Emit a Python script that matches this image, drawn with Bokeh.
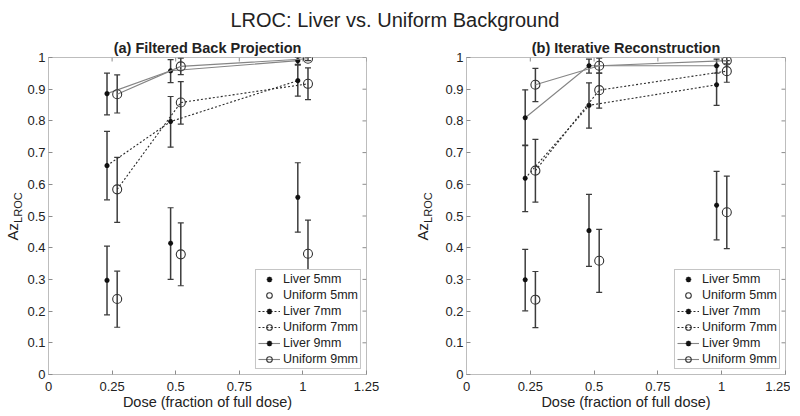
import numpy as np
from bokeh.plotting import figure
from bokeh.models import (Range1d, FixedTicker, Whisker, TeeHead,
                          ColumnDataSource, Legend, LegendItem, Div)
from bokeh.layouts import column, row
from bokeh.embed import file_html
from bokeh.resources import INLINE

# ---------------- data ----------------
doses = [0.25, 0.5, 1.0]
x_ticks = [0, 0.25, 0.5, 0.75, 1.0, 1.25]
x_tick_labels = ["0", "0.25", "0.5", "0.75", "1", "1.25"]
y_ticks = [0, 0.1, 0.2, 0.3, 0.4, 0.5, 0.6, 0.7, 0.8, 0.9, 1.0]
y_tick_labels = ["0", "0.1", "0.2", "0.3", "0.4", "0.5", "0.6", "0.7", "0.8", "0.9", "1"]
series_names = ["Liver 5mm", "Uniform 5mm", "Liver 7mm", "Uniform 7mm", "Liver 9mm", "Uniform 9mm"]

# (a) Filtered Back Projection
fbp_liver5 = [0.297, 0.414, 0.559]
fbp_liver5_lo = [0.188, 0.300, 0.449]
fbp_liver5_hi = [0.405, 0.526, 0.668]
fbp_unif5 = [0.238, 0.379, 0.381]
fbp_unif5_lo = [0.149, 0.280, 0.276]
fbp_unif5_hi = [0.326, 0.478, 0.487]
fbp_liver7 = [0.659, 0.798, 0.927]
fbp_liver7_lo = [0.551, 0.717, 0.878]
fbp_liver7_hi = [0.767, 0.877, 0.976]
fbp_unif7 = [0.584, 0.858, 0.917]
fbp_unif7_lo = [0.480, 0.790, 0.867]
fbp_unif7_hi = [0.685, 0.924, 0.967]
fbp_liver9 = [0.886, 0.958, 0.990]
fbp_liver9_lo = [0.819, 0.921, 0.978]
fbp_liver9_hi = [0.951, 0.993, 1.000]
fbp_unif9 = [0.884, 0.972, 0.996]
fbp_unif9_lo = [0.825, 0.946, 0.990]
fbp_unif9_hi = [0.945, 0.998, 1.000]

# (b) Iterative Reconstruction
ir_liver5 = [0.299, 0.454, 0.534]
ir_liver5_lo = [0.201, 0.341, 0.425]
ir_liver5_hi = [0.395, 0.568, 0.641]
ir_unif5 = [0.236, 0.359, 0.512]
ir_unif5_lo = [0.148, 0.259, 0.397]
ir_unif5_hi = [0.325, 0.458, 0.626]
ir_liver7 = [0.619, 0.849, 0.914]
ir_liver7_lo = [0.514, 0.777, 0.849]
ir_liver7_hi = [0.724, 0.920, 0.974]
ir_unif7 = [0.643, 0.897, 0.957]
ir_unif7_lo = [0.544, 0.840, 0.922]
ir_unif7_hi = [0.742, 0.951, 0.990]
ir_liver9 = [0.810, 0.974, 0.974]
ir_liver9_lo = [0.722, 0.951, 0.951]
ir_liver9_hi = [0.898, 0.995, 0.995]
ir_unif9 = [0.914, 0.974, 0.990]
ir_unif9_lo = [0.861, 0.951, 0.980]
ir_unif9_hi = [0.966, 0.998, 1.000]

FONT = "Liberation Sans"
TXT = "#222222"
BOX = "#bdbdbd"
TICK = "#8c8c8c"
DOSE_SHIFT = 0.02
FIG_H = 384
FRAME_W = 319
FRAME_H = 317
TICK_LEN = 4


def style_axis(ax, ticks, labels):
    ax.ticker = FixedTicker(ticks=ticks)
    ax.major_label_overrides = {t: l for t, l in zip(ticks, labels)}
    ax.minor_tick_line_color = None
    ax.major_tick_in = TICK_LEN
    ax.major_tick_out = 0
    ax.major_tick_line_color = TICK
    ax.axis_line_color = BOX
    ax.major_label_text_font = FONT
    ax.major_label_text_color = TXT
    ax.major_label_text_font_size = "13px"


def make_panel(title, series, width, border_left, border_right):
    p = figure(width=width, height=FIG_H, output_backend="svg", toolbar_location=None,
               x_range=Range1d(0, 1.25), y_range=Range1d(0, 1),
               min_border_left=border_left, min_border_right=border_right,
               min_border_top=25, min_border_bottom=FIG_H - 25 - FRAME_H)
    p.grid.visible = False
    p.outline_line_color = BOX
    p.background_fill_color = "white"
    p.border_fill_color = "white"
    p.title.text = title
    p.title.text_font = FONT
    p.title.text_font_style = "bold"
    p.title.text_font_size = "14.5px"
    p.title.text_color = TXT
    p.title.align = "center"
    p.title.standoff = 3

    style_axis(p.xaxis[0], x_ticks, x_tick_labels)
    style_axis(p.yaxis[0], y_ticks, y_tick_labels)
    p.xaxis[0].major_label_standoff = 7
    p.yaxis[0].major_label_standoff = 3
    p.xaxis[0].axis_label = "Dose (fraction of full dose)"
    p.xaxis[0].axis_label_text_font = FONT
    p.xaxis[0].axis_label_text_font_size = "14.5px"
    p.xaxis[0].axis_label_text_font_style = "normal"
    p.xaxis[0].axis_label_text_color = TXT
    p.xaxis[0].axis_label_standoff = 0

    # inward ticks on the top and right edges of the box (MATLAB style)
    dx = TICK_LEN * 1.25 / FRAME_W
    dy = TICK_LEN * 1.0 / FRAME_H
    p.segment(x0=x_ticks, x1=x_ticks, y0=[1.0] * len(x_ticks), y1=[1.0 - dy] * len(x_ticks),
              line_color=TICK, line_width=1)
    p.segment(x0=[1.25] * len(y_ticks), x1=[1.25 - dx] * len(y_ticks), y0=y_ticks, y1=y_ticks,
              line_color=TICK, line_width=1)

    renderers = {}
    for name, (vals, lo, hi) in series.items():
        liver = name.startswith("Liver")
        shift = -DOSE_SHIFT if liver else DOSE_SHIFT
        xs = [d + shift for d in doses]
        src = ColumnDataSource(dict(x=xs, y=vals, lo=lo, hi=hi))
        rs = []
        if "5mm" not in name:
            dash = "2 2" if "7mm" in name else "solid"
            color = "#2b2b2b" if "7mm" in name else "#858585"
            rs.append(p.line("x", "y", source=src, line_color=color, line_width=1.1,
                             line_dash=dash))
        wcol = "#3c3c3c"
        p.add_layout(Whisker(source=src, base="x", lower="lo", upper="hi",
                             line_color=wcol, line_width=1.5,
                             upper_head=TeeHead(size=6, line_color=wcol, line_width=1.2),
                             lower_head=TeeHead(size=6, line_color=wcol, line_width=1.2)))
        if liver:
            rs.append(p.scatter("x", "y", source=src, marker="asterisk", size=5,
                                line_color="#111111", line_width=1.6))
        else:
            rs.append(p.scatter("x", "y", source=src, marker="circle", size=9,
                                line_color="#333333", fill_color=None, line_width=1.1))
        renderers[name] = rs

    legend = Legend(items=[LegendItem(label=n, renderers=renderers[n]) for n in series_names],
                    location="bottom_right")
    legend.label_text_font = FONT
    legend.label_text_font_size = "12.5px"
    legend.label_text_color = TXT
    legend.label_height = 14
    legend.glyph_height = 14
    legend.glyph_width = 22
    legend.label_standoff = 3
    legend.spacing = 2
    legend.padding = 2
    legend.margin = 5
    legend.border_line_color = TICK
    legend.border_line_width = 1
    legend.background_fill_alpha = 1.0
    p.add_layout(legend)
    return p


def ylabel_div(width, shift_x):
    html = ('<span style="display:inline-block; white-space:nowrap; '
            'transform:rotate(-90deg); font-family:\'Liberation Sans\'; font-size:15px; '
            'color:%s; position:relative; top:-8px; left:%dpx;">'
            'Az<sub style="font-size:11px">LROC</sub></span>') % (TXT, shift_x)
    return Div(text=html, width=width, height=FIG_H, margin=(0, 0, 0, 0),
               styles={"display": "flex", "align-items": "center",
                       "justify-content": "center", "overflow": "visible"})


fbp = {
    "Liver 5mm": (fbp_liver5, fbp_liver5_lo, fbp_liver5_hi),
    "Uniform 5mm": (fbp_unif5, fbp_unif5_lo, fbp_unif5_hi),
    "Liver 7mm": (fbp_liver7, fbp_liver7_lo, fbp_liver7_hi),
    "Uniform 7mm": (fbp_unif7, fbp_unif7_lo, fbp_unif7_hi),
    "Liver 9mm": (fbp_liver9, fbp_liver9_lo, fbp_liver9_hi),
    "Uniform 9mm": (fbp_unif9, fbp_unif9_lo, fbp_unif9_hi),
}
ir = {
    "Liver 5mm": (ir_liver5, ir_liver5_lo, ir_liver5_hi),
    "Uniform 5mm": (ir_unif5, ir_unif5_lo, ir_unif5_hi),
    "Liver 7mm": (ir_liver7, ir_liver7_lo, ir_liver7_hi),
    "Uniform 7mm": (ir_unif7, ir_unif7_lo, ir_unif7_hi),
    "Liver 9mm": (ir_liver9, ir_liver9_lo, ir_liver9_hi),
    "Uniform 9mm": (ir_unif9, ir_unif9_lo, ir_unif9_hi),
}

p1 = make_panel("(a) Filtered Back Projection", fbp, 386, 23, 386 - 23 - FRAME_W)
p2 = make_panel("(b) Iterative Reconstruction", ir, 352, 28, 352 - 28 - FRAME_W)

az1 = ylabel_div(24, 2)
az2 = ylabel_div(28, 0)

title = Div(text='<div style="margin-top:8px; line-height:24px; text-align:center; '
                 'width:790px;">LROC: Liver vs. Uniform Background</div>',
            width=790, height=32, margin=(0, 0, 0, 0),
            styles={"font-family": FONT, "font-size": "20px", "color": TXT})

layout = column(title, row(az1, p1, az2, p2, spacing=0), spacing=0)

open("out.html", "w").write(file_html(layout, INLINE))
